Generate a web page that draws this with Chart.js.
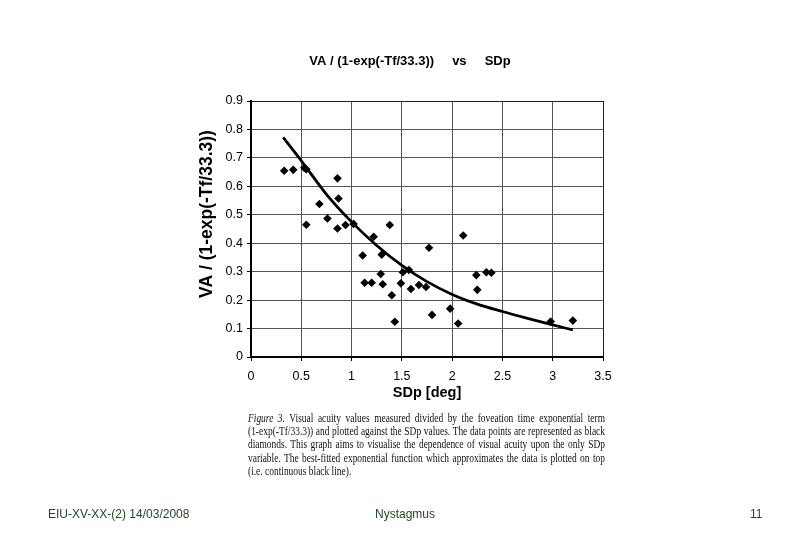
<!DOCTYPE html>
<html>
<head>
<meta charset="utf-8">
<script src="https://cdn.jsdelivr.net/npm/chart.js@4"></script>
<style>
  html, body { margin: 0; padding: 0; background: #fff; }
  #wrap { position: relative; width: 810px; height: 540px; overflow: hidden; }
  canvas { position: absolute; left: 0; top: 0; }
  #caption { position: absolute; left: 248px; top: 412px; width: 435px;
    transform: scaleX(0.8207); transform-origin: 0 0;
    font-family: "Liberation Serif", "Times New Roman", serif; font-size: 11.5px;
    line-height: 13.2px; color: #111; }
  #caption div { text-align: justify; text-align-last: justify; white-space: nowrap; }
  #caption div.last { text-align-last: left; }
  .foot { position: absolute; top: 507px; font-family: "Liberation Sans", Arial, sans-serif;
    font-size: 12px; color: #1f4a1f; }
</style>
</head>
<body>
<div id="wrap">
  <canvas id="c" width="810" height="540"></canvas>
  <div id="caption">
    <div><i>Figure 3.</i> Visual acuity values measured divided by the foveation time exponential term</div>
    <div>(1-exp(-Tf/33.3)) and plotted against the SDp values. The data points are represented as black</div>
    <div>diamonds. This graph aims to visualise the dependence of visual acuity upon the only SDp</div>
    <div>variable. The best-fitted exponential function which approximates the data is plotted on top</div>
    <div class="last">(i.e. continuous black line).</div>
  </div>
  <div class="foot" style="left:48px;">EIU-XV-XX-(2) 14/03/2008</div>
  <div class="foot" style="left:375px;">Nystagmus</div>
  <div class="foot" style="left:750px;">11</div>
</div>
<script>
// ---- data ----
const sdpValues = [0.33,0.42,0.53,0.55,0.86,0.68,0.87,0.76,0.55,0.86,0.94,1.02,1.38,1.22,1.11,1.30,1.29,1.13,1.20,1.31,1.51,1.57,1.49,1.59,1.67,1.74,1.40,1.43,1.77,1.80,2.11,1.98,2.06,2.24,2.25,2.34,2.39,2.98,3.20];
const vaValues  = [0.655,0.658,0.665,0.660,0.628,0.538,0.557,0.487,0.465,0.452,0.464,0.468,0.464,0.423,0.357,0.360,0.292,0.261,0.261,0.256,0.298,0.306,0.259,0.239,0.253,0.246,0.217,0.124,0.384,0.148,0.427,0.170,0.118,0.288,0.236,0.298,0.296,0.125,0.128];
const fitX = [0.32,0.5,0.75,1.0,1.25,1.5,1.75,2.0,2.25,2.5,2.75,3.0,3.2];
const fitY = [0.772,0.690,0.572,0.475,0.392,0.322,0.265,0.220,0.186,0.160,0.136,0.113,0.095];
const xTicks = [0,0.5,1,1.5,2,2.5,3,3.5];
const xTickLabels = ["0","0.5","1","1.5","2","2.5","3","3.5"];
const yTicks = [0,0.1,0.2,0.3,0.4,0.5,0.6,0.7,0.8,0.9];
const yTickLabels = ["0","0.1","0.2","0.3","0.4","0.5","0.6","0.7","0.8","0.9"];
const chartTitle = "VA / (1-exp(-Tf/33.3))     vs     SDp";
const yTitle = "VA / (1-exp(-Tf/33.3))";
const xTitle = "SDp [deg]";

const scatterData = sdpValues.map((x, i) => ({x: x, y: vaValues[i]}));
const fitData = fitX.map((x, i) => ({x: x, y: fitY[i]}));

const textPlugin = {
  id: 'texts',
  afterDraw(chart) {
    const ctx = chart.ctx;
    ctx.save();
    ctx.fillStyle = '#000';
    ctx.textAlign = 'center';
    ctx.textBaseline = 'middle';
    ctx.font = 'bold 13px "Liberation Sans", Arial, sans-serif';
    ctx.fillText(chartTitle, 410, 61);
    ctx.translate(207, 214);
    ctx.rotate(-Math.PI / 2);
    ctx.font = 'bold 17.5px "Liberation Sans", Arial, sans-serif';
    ctx.fillText(yTitle, 0, 0);
    ctx.restore();
  }
};

const tickFont = {family: '"Liberation Sans", Arial, sans-serif', size: 12.5};

new Chart(document.getElementById('c'), {
  type: 'scatter',
  data: {
    datasets: [
      {
        type: 'line',
        data: fitData,
        borderColor: '#000',
        borderWidth: 2.8,
        pointRadius: 0,
        fill: false,
        cubicInterpolationMode: 'monotone',
        order: 0
      },
      {
        type: 'scatter',
        data: scatterData,
        pointStyle: 'rectRot',
        pointRadius: 4.3,
        backgroundColor: '#000',
        borderColor: '#000',
        borderWidth: 0,
        order: 1
      }
    ]
  },
  options: {
    responsive: false,
    devicePixelRatio: 1,
    animation: false,
    layout: { padding: { left: 190, right: 207, top: 101, bottom: 123 } },
    plugins: { legend: { display: false }, title: { display: false }, tooltip: { enabled: false } },
    scales: {
      x: {
        type: 'linear', min: 0, max: 3.5,
        afterBuildTicks: s => { s.ticks = xTicks.map(v => ({value: v})); },
        afterFit: s => { s.height = 60; },
        ticks: { callback: (v, i) => xTickLabels[i], color: '#000', font: tickFont, padding: 8, maxRotation: 0 },
        grid: {
          color: ctx => (ctx.tick && ctx.tick.value === 3.5) ? '#222' : '#555',
          lineWidth: 1, tickLength: 4, tickColor: '#000'
        },
        border: { color: '#000', width: 2 },
        title: { display: true, text: xTitle, color: '#000',
          font: {family: '"Liberation Sans", Arial, sans-serif', size: 14.5, weight: 'bold'},
          padding: { top: 0, bottom: 15 } }
      },
      y: {
        type: 'linear', min: 0, max: 0.9,
        afterBuildTicks: s => { s.ticks = yTicks.map(v => ({value: v})); },
        afterFit: s => { s.width = 61; },
        ticks: { callback: (v, i) => yTickLabels[i], color: '#000', font: tickFont, padding: 4 },
        grid: {
          color: ctx => (ctx.tick && ctx.tick.value === 0.9) ? '#222' : '#555',
          lineWidth: 1, tickLength: 4, tickColor: '#000'
        },
        border: { color: '#000', width: 2 }
      }
    }
  },
  plugins: [textPlugin]
});
</script>
</body>
</html>
